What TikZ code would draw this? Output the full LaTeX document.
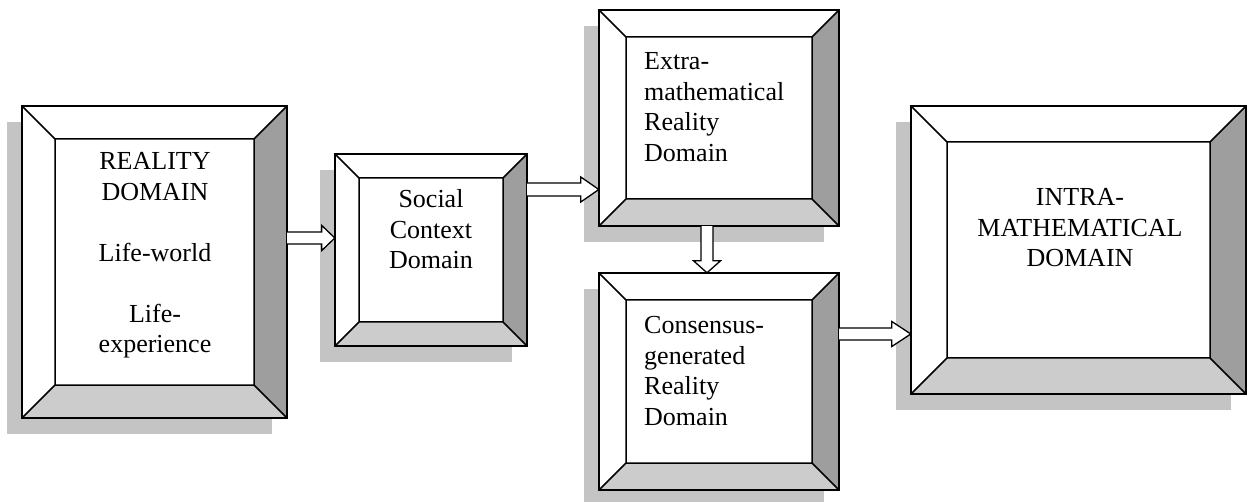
\documentclass[tikz,border=0pt]{standalone}
\usepackage{fontspec}
\setmainfont{Liberation Serif}
\usetikzlibrary{calc,fit}

\definecolor{bevdark}{gray}{0.62}
\definecolor{bevlight}{gray}{0.80}
\definecolor{dropshade}{gray}{0.77}

\tikzset{
  boxline/.style={line width=1.5pt, line join=miter},
  blockarrow/.style={draw=black, fill=white, line width=1.3pt, line join=miter},
  boxtext/.style={inner sep=0pt, font=\fontsize{26}{30.5}\selectfont},
}

% Bevelled frame with a drop shadow: name, x1, y1, x2, y2, bevel depth
\newcommand\bevbox[6]{%
  \coordinate (#1-nw) at (#2,#3);
  \coordinate (#1-se) at (#4,#5);
  \coordinate (#1-ne) at (#4,#3);
  \coordinate (#1-sw) at (#2,#5);
  \coordinate (#1-inw) at ($(#1-nw)+(#6,#6)$);
  \coordinate (#1-ine) at ($(#1-ne)+(-#6,#6)$);
  \coordinate (#1-ise) at ($(#1-se)+(-#6,-#6)$);
  \coordinate (#1-isw) at ($(#1-sw)+(#6,-#6)$);
  \fill[dropshade] ($(#1-nw)+(-15,16)$) rectangle ($(#1-se)+(-15,16)$);
  \node[fit=(#1-nw)(#1-se), inner sep=0pt, fill=white] (#1) {};
  \fill[bevdark] (#1-ne) -- (#1-se) -- (#1-ise) -- (#1-ine) -- cycle;
  \fill[bevlight] (#1-sw) -- (#1-se) -- (#1-ise) -- (#1-isw) -- cycle;
  \draw[boxline] (#1-inw) rectangle (#1-ise)
    (#1-nw) -- (#1-inw) (#1-ne) -- (#1-ine)
    (#1-se) -- (#1-ise) (#1-sw) -- (#1-isw);
  \draw[boxline] (#1.north west) rectangle (#1.south east);
}

% Hollow block arrow pointing right: start, tip, shaft half width, head half width, head length
\newcommand\harrow[5]{%
  \draw[blockarrow] let \p1=#1, \p2=#2 in
    (\x1,\y1+#3pt) -- (\x2-#5pt,\y1+#3pt) -- (\x2-#5pt,\y1+#4pt) -- (\x2,\y1)
    -- (\x2-#5pt,\y1-#4pt) -- (\x2-#5pt,\y1-#3pt) -- (\x1,\y1-#3pt);
}

% Hollow block arrow pointing down: start, tip, shaft half width, head half width, head length
\newcommand\varrow[5]{%
  \draw[blockarrow] let \p1=#1, \p2=#2 in
    (\x1-#3pt,\y1) -- (\x1-#3pt,\y2+#5pt) -- (\x1-#4pt,\y2+#5pt) -- (\x1,\y2)
    -- (\x1+#4pt,\y2+#5pt) -- (\x1+#3pt,\y2+#5pt) -- (\x1+#3pt,\y1);
}

\begin{document}
\begin{tikzpicture}[x=1pt,y=-1pt]
  \useasboundingbox (0,0) rectangle (1247,502);
  \clip (0,0) rectangle (1247,502);

  \bevbox{reality}{22}{106}{287}{418}{33}
  \bevbox{social}{335}{154}{527}{346}{24}
  \bevbox{extra}{599}{10}{839}{226}{27}
  \bevbox{consensus}{599}{273}{839}{490}{27}
  \bevbox{intra}{911}{106}{1246}{394}{36}

  \node[boxtext, text width=190pt, align=center, anchor=base] (reality-text) at (155,170)
    {REALITY\\DOMAIN\\[30.5pt]Life-world\\[30.5pt]Life-\\experience};
  \node[boxtext, text width=140pt, align=center, anchor=base] (social-text) at (431,208)
    {Social\\Context\\Domain};
  \node[boxtext, text width=165pt, align=left, anchor=base west] (extra-text) at (644,70)
    {Extra-\\mathematical\\Reality\\Domain};
  \node[boxtext, text width=165pt, align=left, anchor=base west] (consensus-text) at (644,334)
    {Consensus-\\generated\\Reality\\Domain};
  \node[boxtext, text width=260pt, align=center, anchor=base] (intra-text) at (1080,206)
    {INTRA-\\MATHEMATICAL\\DOMAIN};

  \harrow{(reality.east |- 0,238)}{(social.west |- 0,238)}{6}{12.5}{13}
  \harrow{(social.east |- 0,189.5)}{(extra.west |- 0,189.5)}{6.5}{12.5}{18}
  \varrow{(extra.south -| 707,0)}{(consensus.north -| 707,0)}{6}{13.5}{12}
  \harrow{(consensus.east |- 0,334)}{(intra.west |- 0,334)}{6}{12.5}{19}
\end{tikzpicture}
\end{document}
